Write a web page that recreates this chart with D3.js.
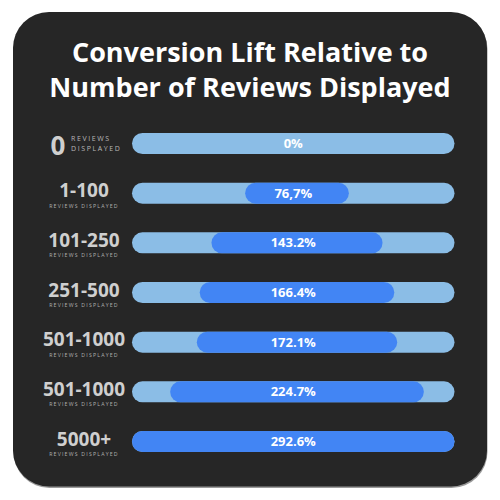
<!DOCTYPE html>
<html>
<head>
<meta charset="utf-8">
<script src="https://cdn.jsdelivr.net/npm/d3@7"></script>
<style>
  html, body { margin: 0; padding: 0; background: #ffffff; }
  svg text { font-family: "Open Sans", "DejaVu Sans", sans-serif; }
</style>
</head>
<body>
<div id="chart"></div>
<script>
// chart data
var title_lines = ["Conversion Lift Relative to", "Number of Reviews Displayed"];
var categories = ["0", "1-100", "101-250", "251-500", "501-1000", "501-1000", "5000+"];
var sub_label = "REVIEWS DISPLAYED";
var lift_values = [0, 76.7, 143.2, 166.4, 172.1, 224.7, 292.6];
var lift_labels = ["0%", "76,7%", "143.2%", "166.4%", "172.1%", "224.7%", "292.6%"];

var W = 500, H = 500;
var track_x0 = 132, track_x1 = 454.5;
var bar_h = 21;
var bar_center = 297;

var svg = d3.select("#chart")
	.append("svg")
		.attr("width", W)
		.attr("height", H);

// card
svg.append("rect")
	.attr("x", 13.5).attr("y", 13)
	.attr("width", 474).attr("height", 475)
	.attr("rx", 36)
	.style("fill", "#9a9a9a");
svg.append("rect")
	.attr("x", 13).attr("y", 12)
	.attr("width", 474).attr("height", 474.5)
	.attr("rx", 36)
	.style("fill", "#262626");

// title
svg.selectAll("text.title")
	.data(title_lines)
	.enter()
	.append("text")
		.attr("class", "title")
		.attr("x", 250)
		.attr("y", function(d, i) { return 62 + i * 35; })
		.attr("text-anchor", "middle")
		.style("font-size", "27px")
		.style("font-weight", "700")
		.style("fill", "#ffffff")
		.text(function(d) { return d; });

var idx = d3.range(categories.length);
var y = d3.scalePoint().domain(idx).range([143.5, 441.5]);

// width of dark bar: end caps + value
var w = d3.scaleLinear().domain([0, d3.max(lift_values)]).range([bar_h + 5, track_x1 - track_x0]);

var rows = svg.selectAll("g.row")
	.data(idx)
	.enter()
	.append("g")
		.attr("class", "row")
		.attr("transform", function(i) { return "translate(0," + y(i) + ")"; });

// light track
rows.append("rect")
	.attr("x", track_x0)
	.attr("y", -bar_h / 2)
	.attr("width", track_x1 - track_x0)
	.attr("height", bar_h)
	.attr("rx", bar_h / 2)
	.style("fill", "#8bbde6");

// dark bar
rows.filter(function(i) { return lift_values[i] > 0; })
	.append("rect")
		.attr("x", function(i) {
			var x0 = Math.max(track_x0, bar_center - w(lift_values[i]) / 2);
			return Math.min(x0, track_x1 - w(lift_values[i]));
		})
		.attr("y", -bar_h / 2)
		.attr("width", function(i) { return w(lift_values[i]); })
		.attr("height", bar_h)
		.attr("rx", bar_h / 2)
		.style("fill", "#4285f4");

// value label
rows.append("text")
	.attr("x", (track_x0 + track_x1) / 2)
	.attr("y", 4.5)
	.attr("text-anchor", "middle")
	.style("font-size", "13px")
	.style("font-weight", "700")
	.style("fill", "#ffffff")
	.text(function(i) { return lift_labels[i]; });

// category labels
rows.filter(function(i) { return i > 0; })
	.append("text")
		.attr("x", 84)
		.attr("y", 4)
		.attr("text-anchor", "middle")
		.style("font-size", "19px")
		.style("font-weight", "700")
		.style("fill", "#cfcfcf")
		.text(function(i) { return categories[i]; });

rows.filter(function(i) { return i > 0; })
	.append("text")
		.attr("x", 84)
		.attr("y", 14.5)
		.attr("text-anchor", "middle")
		.style("font-size", "5.2px")
		.style("letter-spacing", "1.2px")
		.style("fill", "#b0b0b0")
		.text(sub_label);

// first row has its own layout
var first = rows.filter(function(i) { return i == 0; });
first.append("text")
	.attr("x", 58)
	.attr("y", 11)
	.attr("text-anchor", "middle")
	.style("font-size", "26px")
	.style("font-weight", "700")
	.style("fill", "#cfcfcf")
	.text(categories[0]);
first.selectAll("text.sub0")
	.data(sub_label.split(" "))
	.enter()
	.append("text")
		.attr("class", "sub0")
		.attr("x", 71)
		.attr("y", function(d, k) { return -2.5 + k * 10; })
		.style("font-size", "7px")
		.style("letter-spacing", "1.6px")
		.style("fill", "#b8b8b8")
		.text(function(d) { return d; });
</script>
</body>
</html>
